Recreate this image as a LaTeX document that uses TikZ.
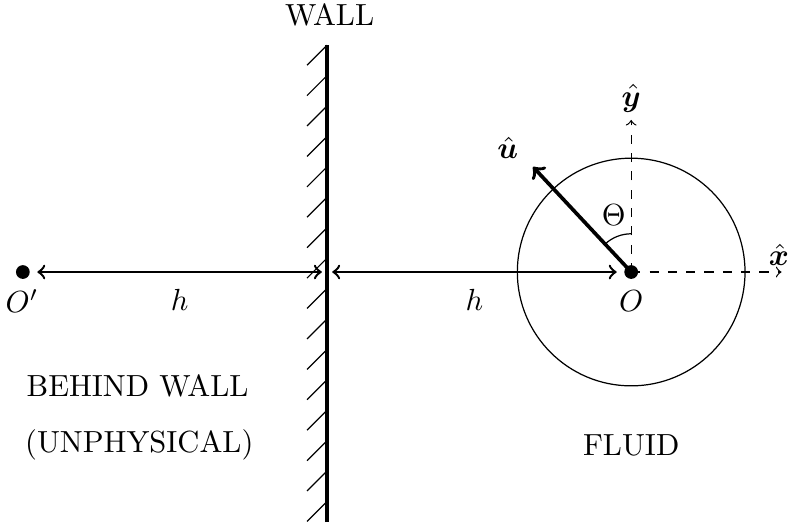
\documentclass[tikz,border=0pt]{standalone}
\usepackage{amsmath,bm}
\begin{document}
\begin{tikzpicture}[dot/.style={circle, fill, inner sep=0pt, minimum size=4.5pt, outer sep=2.5pt}]
\useasboundingbox (-3.763,-2.877) rectangle (5.339,3.130);

% the wall
\node (wall) at (0.03,2.96) {WALL};
\draw[very thick] (0,-2.877) -- (0,2.61);
\foreach \i in {0,...,15}
  \draw (0,{2.61-0.35*\i}) -- ++(-0.23,-0.23);
\coordinate (wl) at (-0.06,0);
\coordinate (wr) at (0.06,0);

% source and image
\node (O) [dot] at (3.5,0) {};
\node (Op) [dot] at (-3.5,0) {};
\node (Olab) at (3.5,-0.33) {$O$};
\node (Oplab) at (-3.51,-0.33) {$O'$};

\draw[<->, thick] (Op) -- (wl) node[midway, below=2pt] {$h$};
\draw[<->, thick] (wr) -- (O) node[midway, below=2pt] {$h$};

% axes and orientation
\coordinate (xtip) at (5.23,0);
\coordinate (ytip) at (3.5,1.75);
\draw[dashed, ->] (O.center) -- (xtip);
\draw[dashed, ->] (O.center) -- (ytip);
\node (xlab) at (5.2,0.2) {$\hat{\bm{x}}$};
\node (ylab) at (3.5,2.0) {$\hat{\bm{y}}$};

\draw (O.center) circle (1.31);
\coordinate (uend) at (2.37,1.21);
\draw[->, very thick] (O.center) -- (uend);
\node (ulab) at (2.08,1.43) {$\hat{\bm{u}}$};
\draw (3.5,0.44) arc (90:133:0.44);
\node (theta) at (3.3,0.66) {$\Theta$};

% regions
\node (behind) at (-2.18,-1.31) {BEHIND WALL};
\node (unphys) at (-2.16,-1.99) {(UNPHYSICAL)};
\node (fluid) at (3.5,-1.99) {FLUID};
\end{tikzpicture}
\end{document}
